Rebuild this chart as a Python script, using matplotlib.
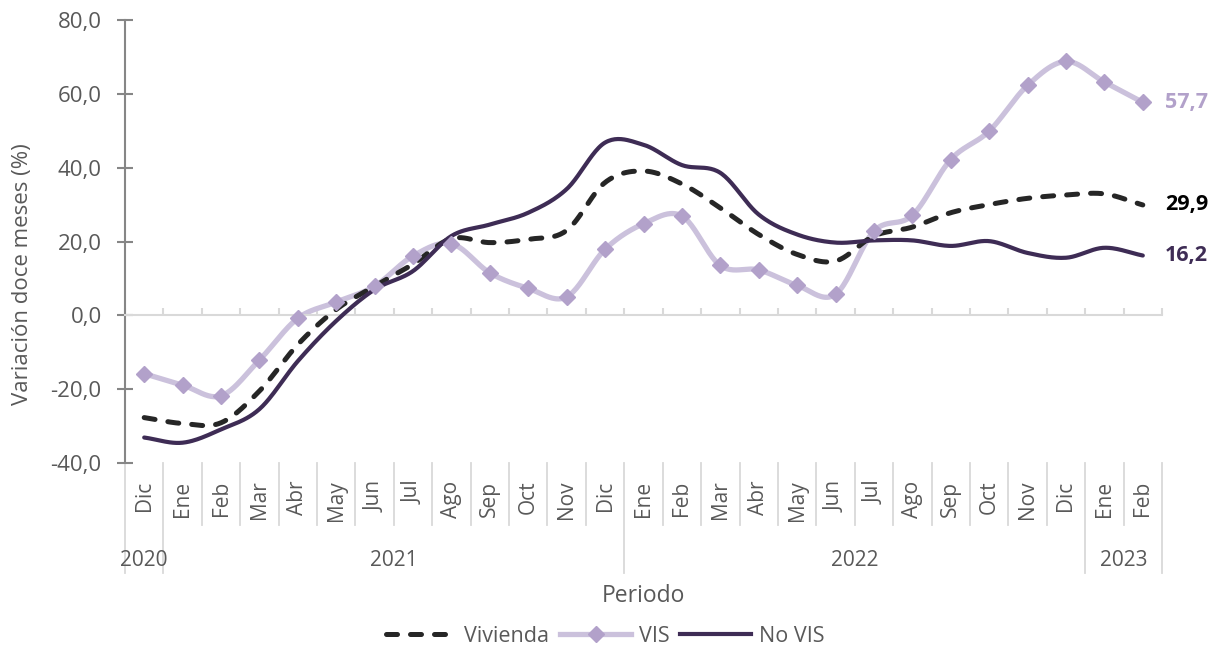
import matplotlib
matplotlib.use("Agg")
import matplotlib.pyplot as plt
import matplotlib.transforms as mtransforms
from matplotlib.lines import Line2D
import numpy as np

plt.rcParams['font.family'] = ['Open Sans', 'DejaVu Sans']

# Periodos (dic-2020 a feb-2023)
meses = ["Dic", "Ene", "Feb", "Mar", "Abr", "May", "Jun", "Jul", "Ago", "Sep", "Oct", "Nov",
         "Dic", "Ene", "Feb", "Mar", "Abr", "May", "Jun", "Jul", "Ago", "Sep", "Oct", "Nov",
         "Dic", "Ene", "Feb"]
anios = ["2020", "2021", "2022", "2023"]
anio_inicio = [0, 1, 13, 25]
anio_fin = [0, 12, 24, 26]

# Variación doce meses (%)
vivienda = [-27.7, -29.3, -29.1, -20.5, -7.9, 1.6, 7.9, 13.9, 20.8, 19.7, 20.6, 23.0, 36.0,
            39.1, 35.6, 29.1, 21.9, 16.5, 14.7, 21.5, 23.9, 27.8, 30.0, 31.7, 32.6, 32.9, 29.9]
vis = [-15.8, -18.9, -21.8, -12.1, -0.8, 3.6, 7.9, 16.1, 19.4, 11.5, 7.3, 5.0, 17.9,
       24.8, 26.9, 13.5, 12.3, 8.1, 5.7, 22.8, 27.1, 42.2, 49.9, 62.3, 68.8, 63.2, 57.7]
no_vis = [-33.1, -34.5, -30.9, -25.4, -12.4, -1.5, 7.0, 12.0, 21.5, 24.6, 27.8, 34.2, 46.8,
          46.2, 40.7, 38.6, 27.3, 21.9, 19.7, 20.3, 20.3, 18.8, 20.1, 16.9, 15.6, 18.3, 16.2]

C_VIV = "#262626"
C_VIS_LINE = "#cbc1dc"
C_VIS_MARK = "#b2a1ca"
C_NOVIS = "#3e2c55"
C_TXT = "#595959"
C_GRID = "#d9d9d9"
C_AXIS = "#868686"


def suavizar(y, pasos=24):
    # curva Catmull-Rom para dibujar las series suavizadas
    y = np.asarray(y, dtype=float)
    x = np.arange(len(y), dtype=float)
    px = np.concatenate([[2 * x[0] - x[1]], x, [2 * x[-1] - x[-2]]])
    py = np.concatenate([[2 * y[0] - y[1]], y, [2 * y[-1] - y[-2]]])
    xs, ys = [], []
    t = np.linspace(0, 1, pasos, endpoint=False)
    for i in range(1, len(px) - 2):
        for p, out in ((px, xs), (py, ys)):
            p0, p1, p2, p3 = p[i - 1], p[i], p[i + 1], p[i + 2]
            out.extend(0.5 * (2 * p1 + (-p0 + p2) * t + (2 * p0 - 5 * p1 + 4 * p2 - p3) * t ** 2
                              + (-p0 + 3 * p1 - 3 * p2 + p3) * t ** 3))
    xs.append(x[-1])
    ys.append(y[-1])
    return np.array(xs), np.array(ys)


fig = plt.figure(figsize=(12.22, 6.49), dpi=100)
ax = fig.add_axes([125 / 1222, 186 / 649, 1037 / 1222, 443 / 649])

idx = np.arange(len(meses))
dash = (0, (2.2, 2.6))

xv, yv = suavizar(vivienda)
ax.plot(xv, yv, color=C_VIV, lw=3.6, linestyle=dash, dash_capstyle='round', zorder=3)
xs, ys = suavizar(vis)
ax.plot(xs, ys, color=C_VIS_LINE, lw=3.8, solid_capstyle='round', zorder=2)
ax.plot(idx, vis, linestyle='none', marker='D', ms=8.5, color=C_VIS_MARK, zorder=5)
xn, yn = suavizar(no_vis)
ax.plot(xn, yn, color=C_NOVIS, lw=3.0, solid_capstyle='round', zorder=4)

# etiquetas del último dato
for serie, col in ((vis, C_VIS_MARK), (vivienda, "#000000"), (no_vis, C_NOVIS)):
    ax.annotate(f"{serie[-1]:.1f}".replace(".", ","), (idx[-1], serie[-1]),
                xytext=(16, 0), textcoords='offset points', va='center', ha='left',
                fontsize=15.5, fontweight='bold', color=col)

ax.set_xlim(-0.5, len(meses) - 0.5)
ax.set_ylim(-40, 80)
yt = np.arange(-40, 81, 20)
ax.set_yticks(yt)
ax.set_yticklabels([f"{v:.1f}".replace(".", ",") for v in yt])
ax.tick_params(axis='y', direction='inout', length=11.5, width=1.5, color=C_AXIS,
               labelsize=16, labelcolor=C_TXT, pad=11)
ax.set_ylabel("Variación doce meses (%)", fontsize=16, color=C_TXT)
ax.yaxis.set_label_coords(-0.0887, 0.427)

for s in ("top", "right"):
    ax.spines[s].set_visible(False)
ax.spines['left'].set_color(C_AXIS)
ax.spines['left'].set_linewidth(1.5)
ax.spines['bottom'].set_position(('data', 0))
ax.spines['bottom'].set_color(C_GRID)
ax.spines['bottom'].set_linewidth(1.5)
ax.set_xticks(np.arange(len(meses) + 1) - 0.5)
ax.tick_params(axis='x', direction='in', length=5, width=1.5, color=C_GRID, labelbottom=False)

# eje de categorías con meses y años
tr = mtransforms.blended_transform_factory(ax.transData, ax.transAxes)
for i, m in enumerate(meses):
    ax.text(i, -0.04, m, rotation=90, ha='center', va='top', fontsize=15, color=C_TXT,
            transform=tr, clip_on=False)
bordes_anio = set([anio_inicio[0] - 0.5] + [f + 0.5 for f in anio_fin])
for b in np.arange(len(meses) + 1) - 0.5:
    fondo = -0.248 if b in bordes_anio else -0.14
    ax.add_line(Line2D([b, b], [0, fondo], transform=tr, color=C_GRID, lw=1.3, clip_on=False))
for a, i0, i1 in zip(anios, anio_inicio, anio_fin):
    ax.text((i0 + i1) / 2, -0.221, a, ha='center', va='center', fontsize=15, color=C_TXT,
            transform=tr, clip_on=False)
ax.text(0.5, -0.3, "Periodo", ha='center', va='center', fontsize=16.5, color=C_TXT,
        transform=ax.transAxes)

handles = [
    Line2D([], [], color=C_VIV, lw=3.6, linestyle=dash, dash_capstyle='round'),
    Line2D([], [], color=C_VIS_LINE, lw=3.8, marker='D', ms=8, markerfacecolor=C_VIS_MARK,
           markeredgecolor=C_VIS_MARK, markevery=[1]),
    Line2D([], [], color=C_NOVIS, lw=3.0),
]
leg = fig.legend(handles, ["Vivienda", "VIS", "No VIS"], loc='center',
                 bbox_to_anchor=(605 / 1222, 13 / 649), ncol=3, frameon=False,
                 fontsize=15.5, handlelength=3.3, handletextpad=0.35, columnspacing=0.5)
for t in leg.get_texts():
    t.set_color(C_TXT)

fig.savefig("out.png", dpi=100)
